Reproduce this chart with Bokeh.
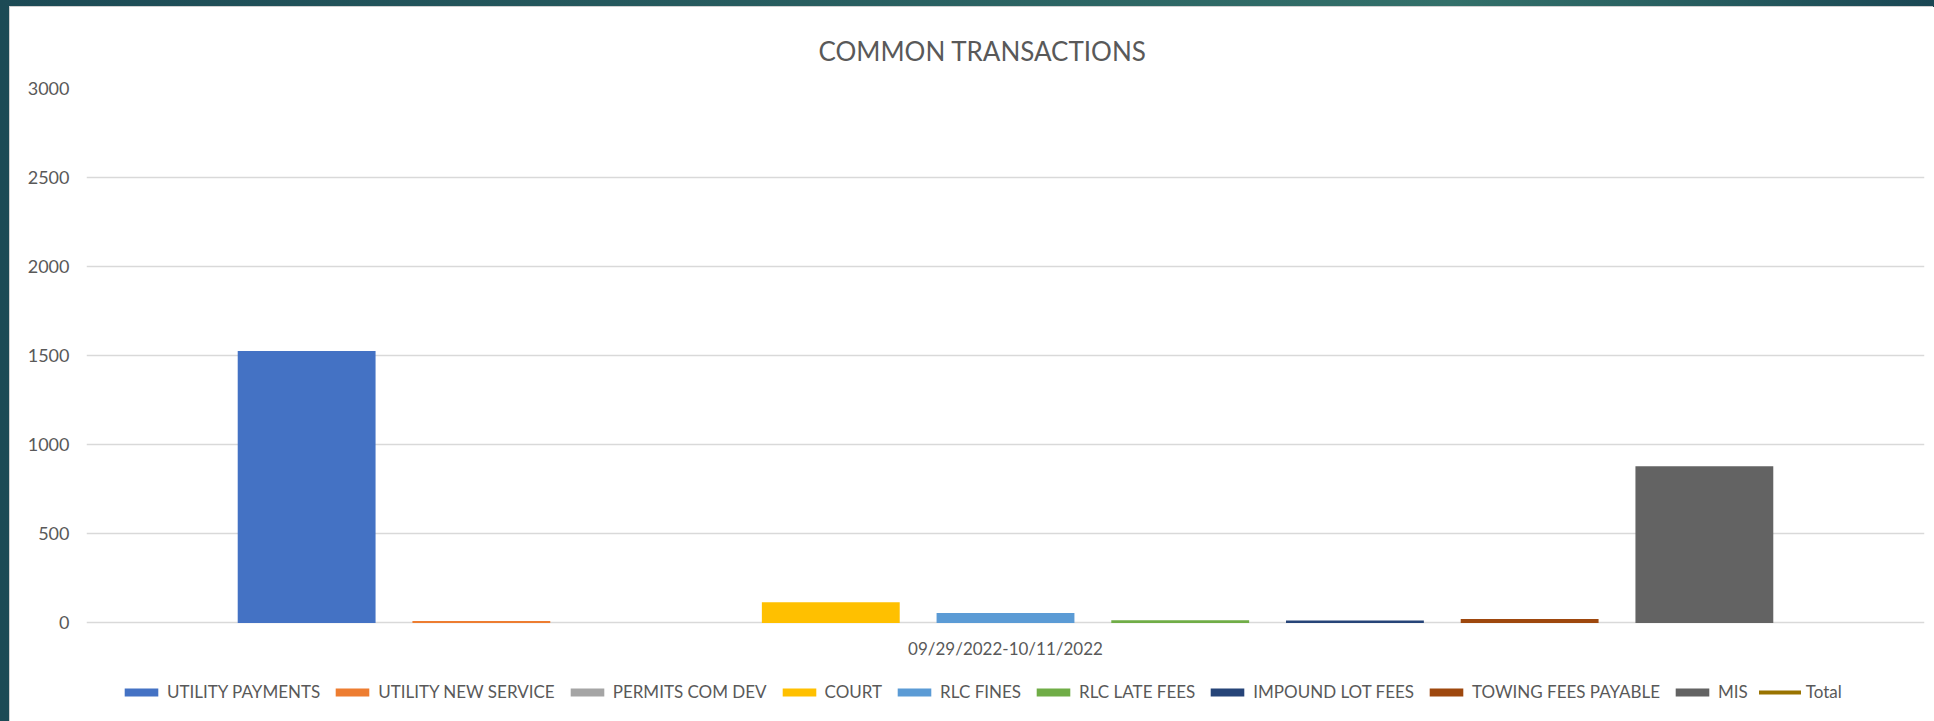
from bokeh.plotting import figure
from bokeh.models import Legend, LegendItem, FixedTicker
from bokeh.embed import file_html
from bokeh.resources import INLINE

# ---- data ----
series_names = ["UTILITY PAYMENTS", "UTILITY NEW SERVICE", "PERMITS COM DEV", "COURT",
                "RLC FINES", "RLC LATE FEES", "IMPOUND LOT FEES", "TOWING FEES PAYABLE", "MIS"]
series_values = [1526, 10, 0, 116, 56, 15, 14, 22, 880]
series_colors = ["#4472C4", "#ED7D31", "#A5A5A5", "#FFC000", "#5B9BD5",
                 "#70AD47", "#264478", "#9E480E", "#636363"]
categories = ["09/29/2022-10/11/2022"]
total_name = "Total"
total_value = [sum(series_values)]
total_color = "#997300"
y_ticks = [0, 500, 1000, 1500, 2000, 2500, 3000]

TXT = "#595959"
FONT = "Lato"

n = len(series_names)
center = (n - 1) / 2.0

# the frame reaches below the zero line so that the legend can sit inside it
Y_MIN, Y_MAX = -520, 3000

p = figure(frame_width=1838, frame_height=627, x_range=(-1.26, n - 1 + 1.26), y_range=(Y_MIN, Y_MAX),
           output_backend="svg", toolbar_location=None, tools="",
           outline_line_color=None,
           min_border_left=76, min_border_right=10, min_border_top=81, min_border_bottom=10)
p.margin = (7, 0, 0, 10)
p.styles = {"box-shadow": "-1px -1px 0 #d0d0d0", "background-color": "white"}
p.border_fill_color = "white"
p.background_fill_color = "white"

p.title.text = "COMMON TRANSACTIONS"
p.title.align = "left"
p.title.offset = 732
p.title.text_font = FONT
p.title.text_font_size = "26px"
p.title.text_font_style = "normal"
p.title.text_color = TXT
p.title.standoff = 43

renderers = []
for i in range(n):
    r = p.vbar(x=[i], top=[series_values[i]], bottom=0, width=0.789,
               fill_color=series_colors[i], line_color=None)
    renderers.append(r)
r_total = p.line(x=[center], y=total_value, line_color=total_color, line_width=4, line_cap="round")

# y axis
p.yaxis.ticker = FixedTicker(ticks=y_ticks)
p.yaxis.axis_line_color = None
p.yaxis.major_tick_line_color = None
p.yaxis.minor_tick_line_color = None
p.yaxis.major_label_standoff = 11
p.yaxis.major_label_text_font = FONT
p.yaxis.major_label_text_font_size = "18px"
p.yaxis.major_label_text_color = TXT

# x axis: single category label, placed at the zero line
p.xaxis.ticker = FixedTicker(ticks=[center])
p.xaxis.major_label_overrides = {center: categories[0]}
p.xaxis.fixed_location = 0
p.xaxis.axis_line_color = None
p.xaxis.major_tick_line_color = None
p.xaxis.minor_tick_line_color = None
p.xaxis.major_tick_out = 0
p.xaxis.major_tick_in = 0
p.xaxis.major_label_standoff = 15
p.xaxis.major_label_text_font = FONT
p.xaxis.major_label_text_font_size = "17px"
p.xaxis.major_label_text_color = TXT

p.xgrid.visible = False
p.ygrid.ticker = FixedTicker(ticks=y_ticks)
p.ygrid.grid_line_color = "#d9d9d9"
p.ygrid.grid_line_width = 1.4

items = [LegendItem(label=series_names[i], renderers=[renderers[i]]) for i in range(n)]
items.append(LegendItem(label=total_name, renderers=[r_total]))
legend = Legend(items=items, orientation="horizontal", location=(34, 13),
                glyph_width=42, glyph_height=10, label_standoff=5, spacing=11,
                padding=0, margin=0, border_line_color=None, background_fill_alpha=0,
                label_text_font=FONT, label_text_font_size="17px", label_text_color=TXT,
                label_height=20)
p.add_layout(legend)

html = file_html(p, INLINE, title="Common Transactions")
style = ("<style>html,body{margin:0;padding:0;overflow:hidden;background-color:#1c4a55;"
         "background:linear-gradient(90deg,#1c4a55 0%,#265a5e 35%,#33706a 75%,#2a6262 85%,#1a4754 100%);}</style>")
html = html.replace("<head>", "<head>" + style, 1)
open("out.html", "w").write(html)
